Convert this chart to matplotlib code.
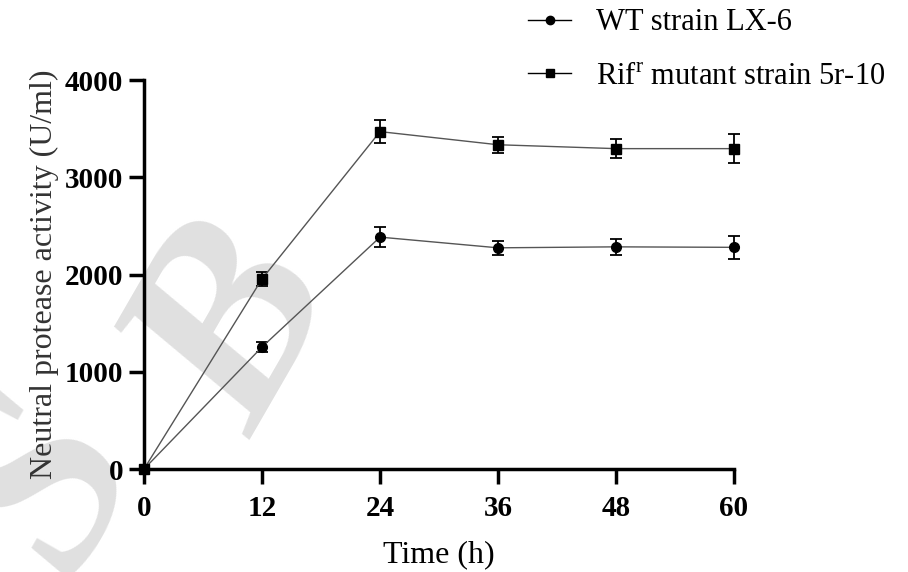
import matplotlib.pyplot as plt
from matplotlib.lines import Line2D

plt.rcParams['font.family'] = ['Liberation Serif', 'DejaVu Serif']
plt.rcParams['mathtext.fontset'] = 'custom'
plt.rcParams['mathtext.rm'] = 'Liberation Serif'

time_h = [0, 12, 24, 36, 48, 60]
wt_activity = [0, 1255, 2385, 2275, 2285, 2280]
wt_err = [0, 50, 100, 70, 80, 120]
mut_activity = [0, 1955, 3470, 3335, 3295, 3295]
mut_err = [0, 70, 120, 80, 100, 150]
labels = ["WT strain LX-6", r"Rif$^{\mathrm{r}}$ mutant strain 5r-10"]

fig = plt.figure(figsize=(9.08, 5.72), dpi=100)
ax = fig.add_axes([0.1586, 0.18, 0.6498, 0.68])
ax.patch.set_alpha(0)
ax.set_zorder(2)

# watermark
fig.text(0.265, 0.42, "B", fontsize=190, fontweight='bold', fontstyle='italic',
         color='#e0e0e0', rotation=60, ha='center', va='center', zorder=-5)
fig.text(0.055, 0.15, "S", fontsize=190, fontweight='bold', fontstyle='italic',
         color='#e0e0e0', rotation=60, ha='center', va='center', zorder=-5)

ax.errorbar(time_h, wt_activity, yerr=wt_err, color='#555555', lw=1,
            marker='o', ms=7, mfc='black', mec='black',
            ecolor='black', elinewidth=1.3, capsize=4, capthick=1.3,
            clip_on=False, zorder=3)
ax.errorbar(time_h, mut_activity, yerr=mut_err, color='#555555', lw=1,
            marker='s', ms=7, mfc='black', mec='black',
            ecolor='black', elinewidth=1.3, capsize=4, capthick=1.3,
            clip_on=False, zorder=3)

ax.set_xlim(0, 60)
ax.set_ylim(0, 4000)
ax.set_xticks(time_h)
ax.set_yticks([0, 1000, 2000, 3000, 4000])
for s in ['top', 'right']:
    ax.spines[s].set_visible(False)
for s in ['left', 'bottom']:
    ax.spines[s].set_linewidth(2.5)
ax.tick_params(axis='both', width=2.5, length=11, labelsize=21)
ax.tick_params(axis='x', pad=8)
ax.tick_params(axis='y', pad=4)
for t in ax.get_xticklabels() + ax.get_yticklabels():
    t.set_fontweight('bold')

ax.set_xlabel("Time (h)", fontsize=23, labelpad=13)
ax.set_ylabel("Neutral protease activity (U/ml)", fontsize=23,
              color='#333333', labelpad=4)

handles = [
    Line2D([], [], color='black', lw=1, marker='o', ms=6),
    Line2D([], [], color='black', lw=1, marker='s', ms=6),
]
fig.legend(handles, labels, loc='upper left', bbox_to_anchor=(0.565, 1.012),
           frameon=False, fontsize=22, handlelength=1.4, labelspacing=0.8,
           handletextpad=0.8, borderaxespad=0.1)

fig.savefig("out.png", dpi=100)
